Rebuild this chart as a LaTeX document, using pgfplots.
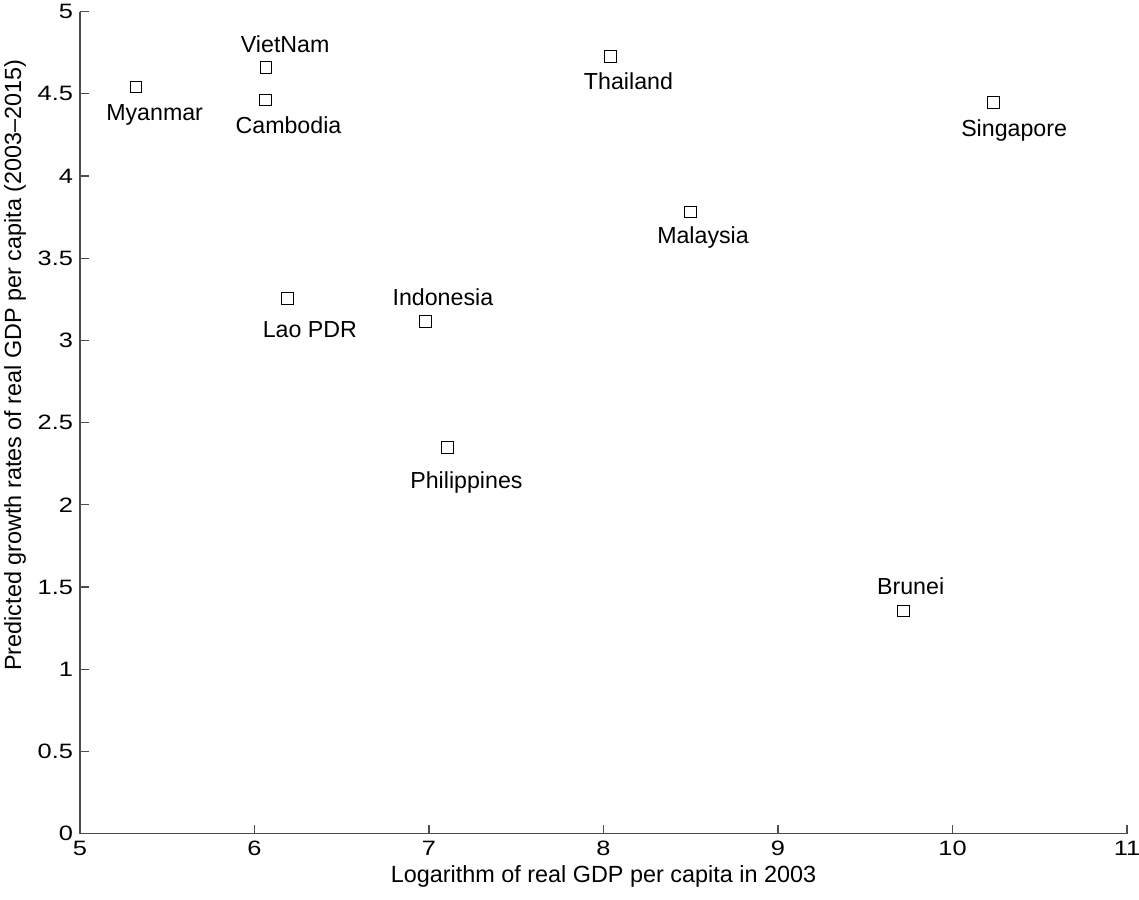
\documentclass[border=0pt]{standalone}
\usepackage{pgfplots}
\pgfplotsset{compat=1.18}
\usepackage{fontspec}
\setmainfont{Liberation Sans}
\newfontfamily\tickfont[FakeStretch=1.22]{Liberation Sans}

\begin{document}
\begin{tikzpicture}
\begin{axis}[
  scale only axis,
  width=523.5pt, height=411pt,
  xmin=5, xmax=11, ymin=0, ymax=5,
  xtick={5,6,...,11},
  ytick={0,0.5,1,1.5,2,2.5,3,3.5,4,4.5,5},
  axis x line*=bottom, axis y line*=left,
  axis line style={-, black!70, line width=0.6pt},
  tick align=inside,
  major tick length=4.5pt,
  tick style={black!70, line width=0.6pt},
  /pgf/number format/assume math mode=true,
  tick label style={font=\tickfont\fontsize{10.4}{12}\selectfont, text=black},
  xlabel={Logarithm of real GDP per capita in 2003},
  ylabel={Predicted growth rates of real GDP per capita (2003–2015)},
  xlabel style={font=\fontsize{11.7}{13}\selectfont, at={(axis description cs:0.5,0)}, anchor=center, yshift=-21.5pt},
  ylabel style={font=\fontsize{11.7}{13}\selectfont, at={(axis description cs:-0.0621,0.570)}, anchor=center},
  clip=false,
]
% countries with per-label offsets (pt) of the label baseline from the marker
\addplot[
  only marks,
  mark=square,
  mark size=2.9pt,
  mark options={draw=black, fill=white, line width=0.5pt},
  point meta=explicit symbolic,
  visualization depends on={\thisrow{dx} \as \dx},
  visualization depends on={\thisrow{dy} \as \dy},
  nodes near coords,
  nodes near coords style={anchor=base, inner sep=0pt, xshift=\dx pt, yshift=\dy pt,
    font=\fontsize{11.6}{13}\selectfont, text=black},
] table[x=x, y=y, meta=label] {
x      y      dx    dy     label
5.320  4.543  9.4   -16.7  Myanmar
6.067  4.661  9.5   7.3    VietNam
6.063  4.463  11.5  -17.0  Cambodia
6.190  3.254  11.1  -19.2  {Lao PDR}
8.040  4.728  9.0   -16.4  Thailand
10.234 4.446  10.4  -17.0  Singapore
8.497  3.781  6.4   -15.7  Malaysia
6.981  3.117  8.6   7.7    Indonesia
7.107  2.348  9.4   -20.3  Philippines
9.720  1.354  3.5   8.2    Brunei
};
\end{axis}
\pgfresetboundingbox
\path[use as bounding box] ([xshift=-40pt,yshift=-33pt]current axis.south west)
  rectangle ([xshift=6pt,yshift=5.85pt]current axis.north east);
\end{tikzpicture}
\end{document}
